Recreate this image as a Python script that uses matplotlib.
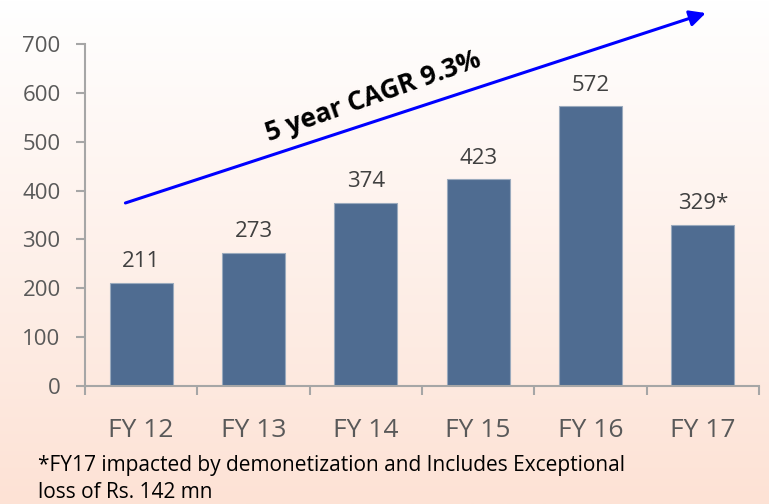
import matplotlib
matplotlib.use("Agg")
import matplotlib.pyplot as plt
import numpy as np
from matplotlib.colors import LinearSegmentedColormap

years = ["FY 12", "FY 13", "FY 14", "FY 15", "FY 16", "FY 17"]
values = [211, 273, 374, 423, 572, 329]
labels = ["211", "273", "374", "423", "572", "329*"]

plt.rcParams["font.family"] = ["Open Sans", "DejaVu Sans"]

fig = plt.figure(figsize=(7.69, 5.04), dpi=100)

# background gradient, white at top to peach at bottom
bg = fig.add_axes([0, 0, 1, 1], zorder=-10)
grad = np.linspace(0, 1, 256).reshape(-1, 1)
cmap = LinearSegmentedColormap.from_list("peach", ["#FFFFFF", "#FDE2D5"])
bg.imshow(grad, aspect="auto", cmap=cmap, extent=[0, 1, 0, 1], origin="upper")
bg.axis("off")

ax = fig.add_axes([0.1105, 0.234, 0.8765, 0.679])
ax.set_facecolor("none")
x = np.arange(len(values))
ax.bar(x, values, width=0.56, color="#4F6C91", edgecolor="#9AAABD", linewidth=0.8)

for xi, v, lab in zip(x, values, labels):
    ax.text(xi, v + 22, lab, ha="center", va="bottom", fontsize=16, color="#404040")

ax.set_xlim(-0.5, len(values) - 0.5)
ax.set_ylim(0, 700)
ax.set_yticks(range(0, 701, 100))
ax.tick_params(axis="y", labelsize=16, labelcolor="#595959", color="#A6A6A6",
               length=6.5, width=1.5, pad=11)
ax.set_xticks(x)
ax.set_xticklabels(years)
ax.set_xticks(np.arange(-0.5, len(values)), minor=True)
ax.tick_params(axis="x", which="major", length=0, labelsize=19,
               labelcolor="#595959", pad=23)
ax.tick_params(axis="x", which="minor", length=6.5, width=1.5, color="#A6A6A6",
               direction="out")
for side in ["top", "right"]:
    ax.spines[side].set_visible(False)
for side in ["left", "bottom"]:
    ax.spines[side].set_color("#A6A6A6")
    ax.spines[side].set_linewidth(1.5)

# CAGR arrow
ax.annotate("", xy=(0.921, 1.09), xytext=(0.06, 0.535),
            xycoords="axes fraction", textcoords="axes fraction",
            arrowprops=dict(arrowstyle="-|>", color="#0000FF", lw=2.2,
                            mutation_scale=24, shrinkA=0, shrinkB=0),
            annotation_clip=False)
ax.text(0.428, 0.845, "5 year CAGR 9.3%", transform=ax.transAxes, rotation=19.5,
        ha="center", va="center", fontsize=19, fontweight="bold", color="black")

fig.text(0.049, 0.05, "*FY17 impacted by demonetization and Includes Exceptional\nloss of Rs. 142 mn",
         ha="left", va="center", fontsize=15, color="black", linespacing=1.4)

fig.savefig("out.png", dpi=100)
